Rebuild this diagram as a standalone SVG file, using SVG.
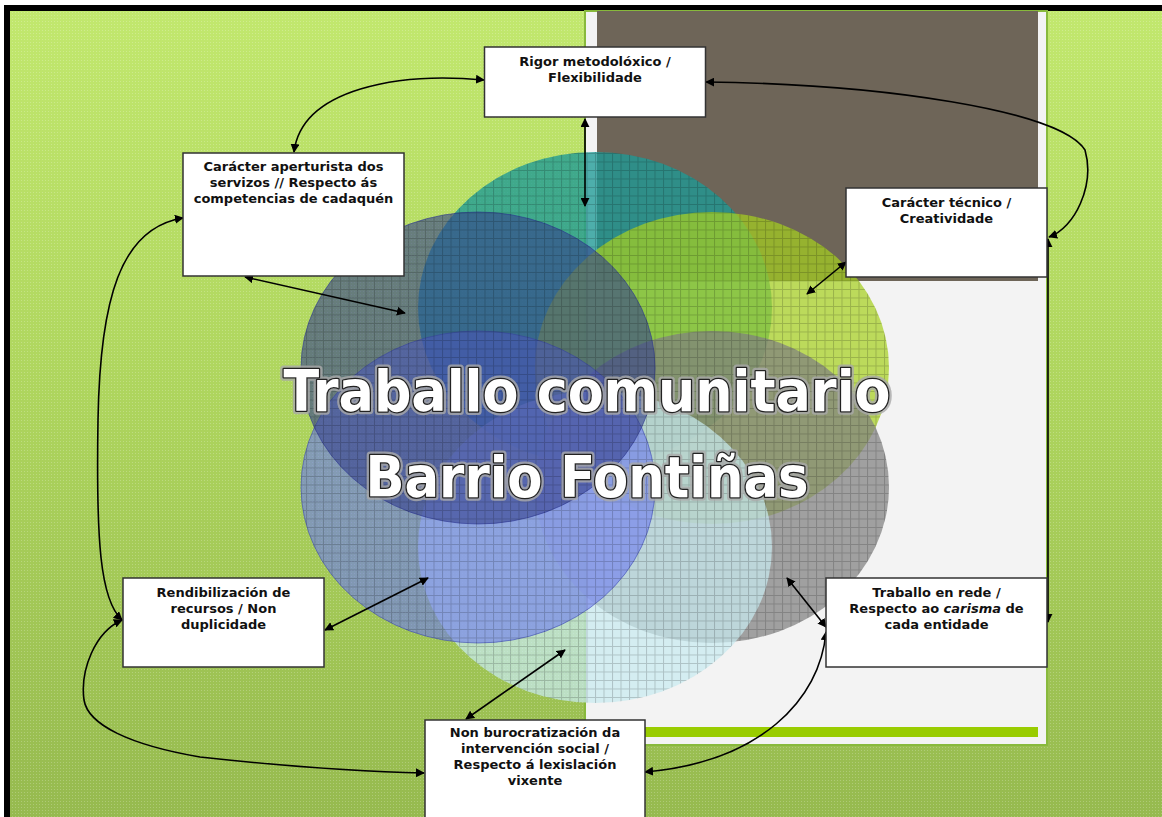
<svg xmlns="http://www.w3.org/2000/svg" width="1162" height="817" viewBox="0 0 1162 817">
<defs>
<linearGradient id="bg" x1="0" y1="0" x2="0" y2="1">
<stop offset="0" stop-color="#c2e86e"/>
<stop offset="0.5" stop-color="#add45d"/>
<stop offset="1" stop-color="#96ba4f"/>
</linearGradient>
<pattern id="tex" width="3" height="3" patternUnits="userSpaceOnUse">
<rect x="0" y="0" width="1" height="1" fill="#ffffff" opacity="0.22"/>
</pattern>
<pattern id="grid" width="8.5" height="8.5" patternUnits="userSpaceOnUse">
<path d="M0 0.5H8.5M0.5 0V8.5" stroke="#000" stroke-opacity="0.18" stroke-width="1" fill="none"/>
</pattern>
<clipPath id="circClip">
<ellipse cx="595" cy="308" rx="177" ry="156"/>
<ellipse cx="478" cy="368" rx="177" ry="156"/>
<ellipse cx="712" cy="368" rx="177" ry="156"/>
<ellipse cx="712" cy="487" rx="177" ry="156"/>
<ellipse cx="595" cy="547" rx="177" ry="156"/>
<ellipse cx="478" cy="487" rx="177" ry="156"/>
</clipPath>
<marker id="ah" viewBox="0 0 10 10" refX="9" refY="5" markerWidth="9" markerHeight="9" markerUnits="userSpaceOnUse" orient="auto-start-reverse">
<path d="M0 0L10 5L0 10Z" fill="#000"/>
</marker>
<style>
.box{fill:#fff;stroke:#333;stroke-width:1.5}
.bt{font-family:"DejaVu Sans","Liberation Sans",sans-serif;font-weight:bold;font-size:13px;fill:#111;text-anchor:middle}
.con{fill:none;stroke:#000;stroke-width:1.6;marker-start:url(#ah);marker-end:url(#ah)}
.title{font-family:"DejaVu Sans Condensed","DejaVu Sans",sans-serif;font-weight:bold;font-size:57px;text-anchor:middle}
.ttl{fill:#fff;stroke:#222;stroke-width:2.5;paint-order:stroke;stroke-linejoin:round}
.tsh{fill:#aaa;stroke:#aaa;stroke-width:7;stroke-linejoin:round;opacity:0.8}
</style>
</defs>

<rect x="0" y="0" width="1162" height="817" fill="#fff"/>
<rect x="4" y="5" width="1158" height="812" fill="url(#bg)"/>
<rect x="4" y="5" width="1158" height="812" fill="url(#tex)"/>
<rect x="4" y="5" width="1158" height="6" fill="#000"/>
<rect x="4" y="5" width="6" height="812" fill="#000"/>

<g id="panel">
<rect x="585" y="11" width="462" height="734" fill="#f3f3f3" stroke="#88b93c" stroke-width="2"/>
<rect x="597" y="11" width="441" height="270" fill="#6e6558"/>
<rect x="645" y="727" width="393" height="10" fill="#99cc00"/>
</g>

<g id="circles">
<ellipse cx="595" cy="308" rx="177" ry="156" fill="#1e9a96" fill-opacity="0.78"/>
<ellipse cx="712" cy="368" rx="177" ry="156" fill="#a6d020" fill-opacity="0.72"/>
<ellipse cx="712" cy="487" rx="177" ry="156" fill="#7f7f7f" fill-opacity="0.72"/>
<ellipse cx="595" cy="547" rx="177" ry="156" fill="#c8eaf0" fill-opacity="0.72"/>
<ellipse cx="478" cy="487" rx="177" ry="156" fill="#6a78f0" fill-opacity="0.6" stroke="#3a48b0" stroke-opacity="0.6"/>
<ellipse cx="478" cy="368" rx="177" ry="156" fill="#34408e" fill-opacity="0.6" stroke="#2a3490" stroke-opacity="0.6"/>
<rect x="290" y="140" width="610" height="575" fill="url(#grid)" clip-path="url(#circClip)"/>
</g>

<g id="title">
<text class="title tsh" x="587" y="411" textLength="607" lengthAdjust="spacingAndGlyphs">Traballo comunitario</text>
<text class="title ttl" x="587" y="411" textLength="607" lengthAdjust="spacingAndGlyphs">Traballo comunitario</text>
<text class="title tsh" x="587" y="497">Barrio Fontiñas</text>
<text class="title ttl" x="587" y="497">Barrio Fontiñas</text>
</g>

<g id="connectors">
<path class="con" d="M585 119V206"/>
<path class="con" d="M484 80C400 72 302 88 294 152"/>
<path class="con" d="M706 82C880 84 1060 110 1085 150C1095 185 1075 228 1049 237"/>
<path class="con" d="M245 277L405 313"/>
<path class="con" d="M807 294L846 262"/>
<path class="con" d="M183 218C120 228 100 300 98 420C96 540 100 600 122 620"/>
<path class="con" d="M122 620C95 632 80 670 84 700C88 725 130 745 200 757C300 768 380 772 424 773"/>
<path class="con" d="M325 630L428 578"/>
<path class="con" d="M466 719L565 650"/>
<path class="con" d="M787 578L826 627"/>
<path class="con" d="M826 632C820 700 760 762 645 772"/>
<path class="con" d="M1048 239V622"/>
</g>

<g id="n-rigor">
<rect class="box" x="484.5" y="47" width="221" height="70"/>
<text class="bt" x="595" y="66">Rigor metodolóxico /</text>
<text class="bt" x="595" y="82">Flexibilidade</text>
</g>
<g id="n-aperturista">
<rect class="box" x="183" y="153" width="221" height="123"/>
<text class="bt" x="293.5" y="171">Carácter aperturista dos</text>
<text class="bt" x="293.5" y="187">servizos // Respecto ás</text>
<text class="bt" x="293.5" y="203">competencias de cadaquén</text>
</g>
<g id="n-tecnico">
<rect class="box" x="846" y="188" width="201" height="89"/>
<text class="bt" x="946.5" y="207">Carácter técnico /</text>
<text class="bt" x="946.5" y="223">Creatividade</text>
</g>
<g id="n-rendibilizacion">
<rect class="box" x="123" y="578" width="201" height="89"/>
<text class="bt" x="223.5" y="597">Rendibilización de</text>
<text class="bt" x="223.5" y="613">recursos / Non</text>
<text class="bt" x="223.5" y="629">duplicidade</text>
</g>
<g id="n-rede">
<rect class="box" x="826" y="578" width="221" height="89"/>
<text class="bt" x="936.5" y="597">Traballo en rede /</text>
<text class="bt" x="936.5" y="613">Respecto ao <tspan font-style="italic">carisma</tspan> de</text>
<text class="bt" x="936.5" y="629">cada entidade</text>
</g>
<g id="n-burocratizacion">
<rect class="box" x="425" y="720" width="220" height="105"/>
<text class="bt" x="535" y="737">Non burocratización da</text>
<text class="bt" x="535" y="753">intervención social /</text>
<text class="bt" x="535" y="769">Respecto á lexislación</text>
<text class="bt" x="535" y="785">vixente</text>
</g>
</svg>
